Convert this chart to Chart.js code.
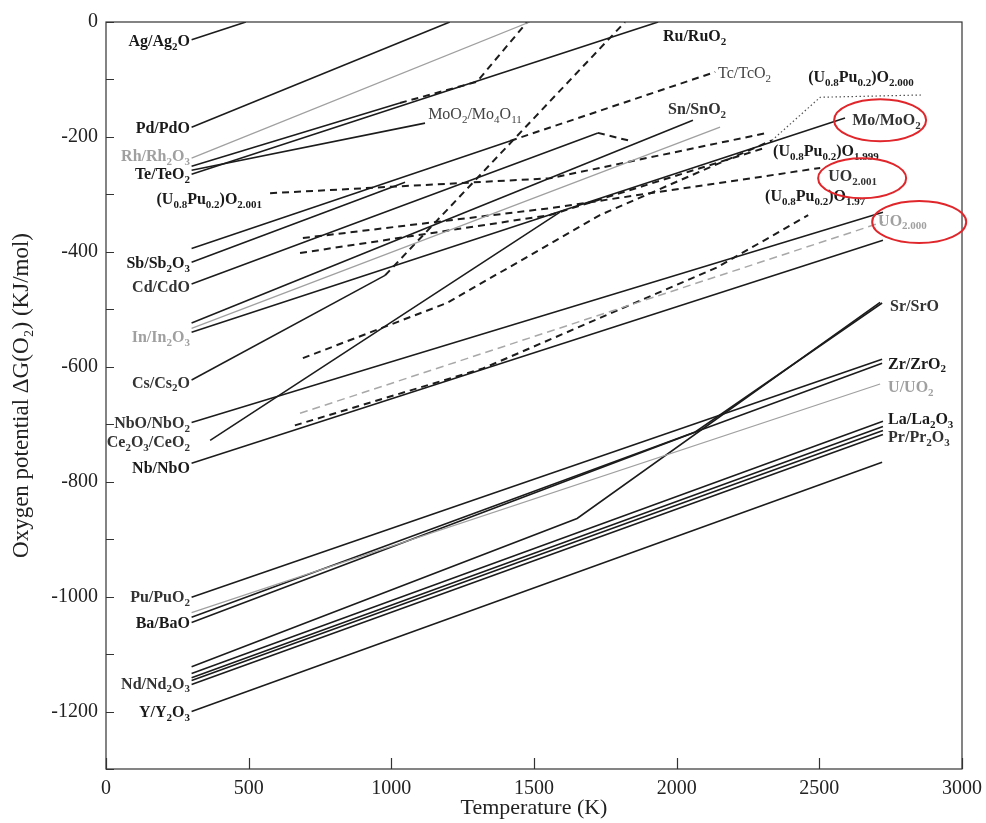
<!DOCTYPE html>
<html>
<head>
<meta charset="utf-8">
<script src="https://cdn.jsdelivr.net/npm/chart.js@4.4.1/dist/chart.umd.min.js"></script>
<style>
  html, body { margin: 0; padding: 0; background: #fff; }
  #wrap { width: 986px; height: 823px; }
</style>
</head>
<body>
<div id="wrap"><canvas id="chart" width="986" height="823"></canvas></div>
<script>
// [temperature (K), oxygen potential (kJ/mol)]
const agAg2O = [[300, -31], [490, 0]];
const pdPdO = [[300, -183], [1205, 0]];
const rhRh2O3 = [[300, -237], [1485, 0]];
const teTeO2 = [[300, -251], [1030, -141]];
const teTeO2Gas = [[1030, -141], [1300, -104], [1476, 0]];
const moO2Mo4O11 = [[300, -258], [1118, -176]];
const ruRuO2 = [[300, -265], [1935, 0]];
const tcTcO2 = [[300, -394], [1416, -207]];
const tcTcO2High = [[1416, -207], [2135, -87]];
const sbSb2O3 = [[300, -418], [1048, -279]];
const cdCdO = [[300, -456], [1724, -193]];
const cdCdOHigh = [[1724, -193], [1830, -206]];
const snSnO2 = [[300, -524], [2057, -171]];
const inIn2O3 = [[300, -533], [2152, -183]];
const moMoO2 = [[300, -540], [2590, -167]];
const csCs2O = [[300, -623], [978, -441]];
const csCs2OGas = [[978, -441], [1819, 0]];
const ce2O3CeO2 = [[365, -728], [1591, -331]];
const nboNbO2 = [[300, -697], [2723, -331]];
const nbNbO = [[300, -768], [2723, -380]];
const uo2000 = [[680, -681], [2723, -348]];
const upuO197 = [[662, -702], [1321, -603], [2142, -427], [2461, -336]];
const upuO2000 = [[690, -585], [1195, -489], [1486, -406], [1731, -336], [2334, -206]];
const upuO2000Dot = [[2334, -206], [2503, -131], [2860, -127]];
const uo2001 = [[690, -376], [1556, -324], [2503, -254]];
const upuO1999 = [[680, -402], [1556, -336], [2310, -219]];
const upuO2001 = [[575, -298], [1556, -272], [2317, -193]];
const puPuO2 = [[300, -1001], [2720, -587]];
const uUO2 = [[300, -1028], [2713, -630]];
const zrZrO2 = [[300, -1036], [2720, -594]];
const baBaO = [[300, -1045], [2064, -714], [2720, -489]];
const srSrO = [[300, -1122], [1651, -864], [2713, -488]];
const laLa2O3 = [[300, -1134], [2723, -695]];
const lnOxide = [[300, -1141], [2723, -704]];
const ndNd2O3 = [[300, -1146], [2723, -711]];
const prPr2O3 = [[300, -1153], [2723, -718]];
const yY2O3 = [[300, -1200], [2720, -766]];

const xTicks = [0, 500, 1000, 1500, 2000, 2500, 3000];

const series = [
  [agAg2O, 'solid'], [pdPdO, 'solid'], [rhRh2O3, 'gray'], [teTeO2, 'solid'], [teTeO2Gas, 'dash'],
  [moO2Mo4O11, 'solid'], [ruRuO2, 'solid'], [tcTcO2, 'solid'], [tcTcO2High, 'dash'],
  [sbSb2O3, 'solid'], [cdCdO, 'solid'], [cdCdOHigh, 'dash'], [snSnO2, 'solid'], [inIn2O3, 'gray'],
  [moMoO2, 'solid'], [csCs2O, 'solid'], [csCs2OGas, 'dash'], [ce2O3CeO2, 'solid'],
  [nboNbO2, 'solid'], [nbNbO, 'solid'], [uo2000, 'grayDash'], [upuO197, 'dash'],
  [upuO2000, 'dash'], [upuO2000Dot, 'dot'], [uo2001, 'dash'], [upuO1999, 'dash'], [upuO2001, 'dash'],
  [puPuO2, 'solid'], [uUO2, 'gray'], [zrZrO2, 'solid'], [baBaO, 'solid'], [srSrO, 'solid'],
  [laLa2O3, 'solid'], [lnOxide, 'solid'], [ndNd2O3, 'solid'], [prPr2O3, 'solid'], [yY2O3, 'solid']
];

const lineStyles = {
  solid: { color: '#1c1c1c', width: 1.6, dash: [] },
  gray: { color: '#a0a0a0', width: 1.3, dash: [] },
  dash: { color: '#1c1c1c', width: 2, dash: [7, 5] },
  grayDash: { color: '#a8a8a8', width: 1.5, dash: [8, 5] },
  dot: { color: '#555', width: 1.2, dash: [1.5, 2.5] }
};

// label text, anchor (K, kJ/mol), align, look
const labels = [
  ['Ag/Ag_2O', 294, -35, 'right', 'b'],
  ['Pd/PdO', 294, -186, 'right', 'b'],
  ['Rh/Rh_2O_3', 294, -235, 'right', 'g'],
  ['Te/TeO_2', 294, -266, 'right', 'b'],
  ['(U_{0.8}Pu_{0.2})O_{2.001}', 547, -310, 'right', 'b'],
  ['Sb/Sb_2O_3', 294, -421, 'right', 'b'],
  ['Cd/CdO', 294, -463, 'right', 'm'],
  ['In/In_2O_3', 294, -550, 'right', 'g'],
  ['Cs/Cs_2O', 294, -629, 'right', 'm'],
  ['NbO/NbO_2', 294, -700, 'right', 'm'],
  ['Ce_2O_3/CeO_2', 294, -732, 'right', 'm'],
  ['Nb/NbO', 294, -777, 'right', 'b'],
  ['Pu/PuO_2', 294, -1003, 'right', 'm'],
  ['Ba/BaO', 294, -1048, 'right', 'b'],
  ['Nd/Nd_2O_3', 294, -1153, 'right', 'm'],
  ['Y/Y_2O_3', 294, -1202, 'right', 'b'],
  ['Ru/RuO_2', 1952, -26, 'left', 'b'],
  ['Tc/TcO_2', 2145, -91, 'left', 'n'],
  ['MoO_2/Mo_4O_{11}', 1129, -162, 'left', 'n'],
  ['Sn/SnO_2', 1970, -153, 'left', 'm'],
  ['(U_{0.8}Pu_{0.2})O_{2.000}', 2461, -98, 'left', 'b'],
  ['Mo/MoO_2', 2615, -172, 'left', 'm'],
  ['(U_{0.8}Pu_{0.2})O_{1.999}', 2338, -226, 'left', 'b'],
  ['UO_{2.001}', 2531, -270, 'left', 'm'],
  ['(U_{0.8}Pu_{0.2})O_{1.97}', 2310, -305, 'left', 'b'],
  ['UO_{2.000}', 2706, -347, 'left', 'g'],
  ['Sr/SrO', 2748, -495, 'left', 'm'],
  ['Zr/ZrO_2', 2741, -596, 'left', 'b'],
  ['U/UO_2', 2741, -637, 'left', 'g'],
  ['La/La_2O_3', 2741, -693, 'left', 'b'],
  ['Pr/Pr_2O_3', 2741, -724, 'left', 'm']
];

// red highlight rings: centre (K, kJ/mol), radii in px
const rings = [[2713, -171, 46, 21], [2650, -272, 44, 20], [2850, -348, 47, 21]];

const looks = {
  b: { weight: 'bold', color: '#1a1a1a' },
  m: { weight: '600', color: '#333' },
  n: { weight: 'normal', color: '#444' },
  g: { weight: 'bold', color: '#a0a0a0' }
};

function splitSub(str) {
  const parts = [];
  for (let i = 0; i < str.length; i++) {
    if (str[i] === '_') {
      let t;
      if (str[i + 1] === '{') {
        const j = str.indexOf('}', i);
        t = str.slice(i + 2, j);
        i = j;
      } else {
        t = str[i + 1];
        i++;
      }
      parts.push({ t: t, sub: true });
    } else if (parts.length && !parts[parts.length - 1].sub) {
      parts[parts.length - 1].t += str[i];
    } else {
      parts.push({ t: str[i], sub: false });
    }
  }
  return parts;
}

function drawRich(ctx, str, x, y, size, look, align) {
  const parts = splitSub(str);
  const subSize = Math.round(size * 0.68);
  const fontOf = p => look.weight + ' ' + (p.sub ? subSize : size) + 'px "Liberation Serif", serif';
  let total = 0;
  parts.forEach(p => { ctx.font = fontOf(p); p.w = ctx.measureText(p.t).width; total += p.w; });
  let cx = align === 'right' ? x - total : x;
  ctx.fillStyle = look.color;
  ctx.textBaseline = 'middle';
  ctx.textAlign = 'left';
  parts.forEach(p => {
    ctx.font = fontOf(p);
    ctx.fillText(p.t, cx, p.sub ? y + size * 0.32 : y);
    cx += p.w;
  });
}

const decorations = {
  id: 'decorations',
  afterDraw(chart) {
    const { ctx, chartArea: a, scales: { x, y } } = chart;
    ctx.save();
    ctx.strokeStyle = '#333';
    ctx.lineWidth = 1.2;
    ctx.strokeRect(a.left, a.top, a.right - a.left, a.bottom - a.top);
    ctx.beginPath();
    xTicks.forEach(v => {
      const px = Math.round(x.getPixelForValue(v)) + 0.5;
      ctx.moveTo(px, a.bottom);
      ctx.lineTo(px, a.bottom - 11);
    });
    y.ticks.forEach(t => {
      const py = Math.round(y.getPixelForValue(t.value)) + 0.5;
      ctx.moveTo(a.left, py);
      ctx.lineTo(a.left + 8, py);
    });
    ctx.stroke();

    labels.forEach(l => {
      drawRich(ctx, l[0], x.getPixelForValue(l[1]), y.getPixelForValue(l[2]), 16, looks[l[4]], l[3]);
    });

    ctx.strokeStyle = '#e0262b';
    ctx.lineWidth = 2;
    rings.forEach(r => {
      ctx.beginPath();
      ctx.ellipse(x.getPixelForValue(r[0]), y.getPixelForValue(r[1]), r[2], r[3], 0, 0, Math.PI * 2);
      ctx.stroke();
    });
    ctx.restore();
  }
};

Chart.defaults.font.family = '"Liberation Serif", serif';
Chart.defaults.color = '#222';

new Chart(document.getElementById('chart'), {
  type: 'scatter',
  data: {
    datasets: series.map(s => {
      const st = lineStyles[s[1]];
      return {
        data: s[0].map(p => ({ x: p[0], y: p[1] })),
        showLine: true,
        borderColor: st.color,
        borderWidth: st.width,
        borderDash: st.dash,
        pointRadius: 0,
        tension: 0,
        fill: false
      };
    })
  },
  options: {
    responsive: false,
    animation: false,
    devicePixelRatio: 1,
    layout: { padding: { top: 22, right: 24, left: 0, bottom: 0 } },
    plugins: { legend: { display: false }, tooltip: { enabled: false } },
    scales: {
      x: {
        type: 'linear',
        min: 0,
        max: 3000,
        grid: { display: false, drawTicks: false },
        border: { display: false },
        ticks: { stepSize: 500, padding: 8, font: { size: 20 }, color: '#222', callback: v => String(v) },
        title: { display: true, text: 'Temperature (K)', font: { size: 22 }, padding: { top: 0, bottom: 2 }, color: '#222' },
        afterFit(scale) {
          scale.height = 54;
          scale.paddingLeft = 0;
          scale.paddingRight = 0;
        }
      },
      y: {
        type: 'linear',
        min: -1300,
        max: 0,
        grid: { display: false, drawTicks: false },
        border: { display: false },
        ticks: {
          stepSize: 100,
          padding: 8,
          font: { size: 20 },
          color: '#222',
          callback: v => (v % 200 === 0 ? String(v) : '')
        },
        title: { display: true, text: 'Oxygen potential \u0394G(O\u2082) (KJ/mol)', font: { size: 23 }, padding: { top: 8, bottom: 0 }, color: '#222' },
        afterFit(scale) {
          scale.width = 106;
          scale.paddingTop = 0;
          scale.paddingBottom = 0;
        }
      }
    }
  },
  plugins: [decorations]
});
</script>
</body>
</html>
